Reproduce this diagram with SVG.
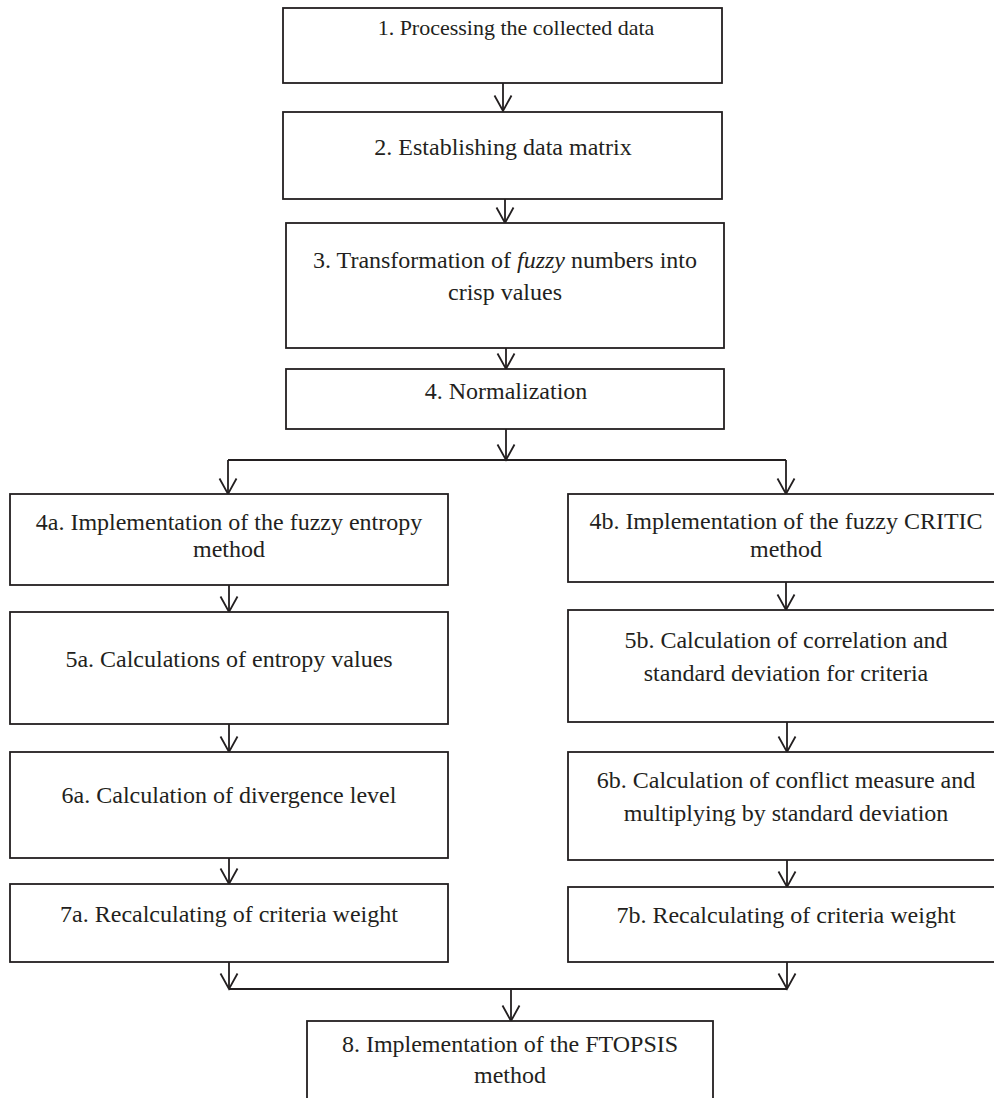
<svg xmlns="http://www.w3.org/2000/svg" width="994" height="1098" viewBox="0 0 994 1098">
<defs>
<style>
.box{fill:#fff;stroke:#231f20;stroke-width:1.8}
.lbl{font-family:"Liberation Serif","Times New Roman",serif;font-size:24px;fill:#231f20;text-anchor:middle}
.con{fill:none;stroke:#231f20;stroke-width:1.8}
</style>
<marker id="arr" markerUnits="userSpaceOnUse" viewBox="0 0 18 20" refX="16.5" refY="10" markerWidth="18" markerHeight="20" orient="auto">
<path d="M1,1.5 L16.5,10 L1,18.5" fill="none" stroke="#231f20" stroke-width="1.8"/>
</marker>
</defs>
<rect width="994" height="1098" fill="#fff"/>
<g id="connectors">
<line class="con" x1="503" y1="83" x2="503" y2="111" marker-end="url(#arr)"/>
<line class="con" x1="505" y1="199" x2="505" y2="223" marker-end="url(#arr)"/>
<line class="con" x1="506" y1="348" x2="506" y2="369" marker-end="url(#arr)"/>
<line class="con" x1="506" y1="429" x2="506" y2="460" marker-end="url(#arr)"/>
<polyline class="con" points="228,460 786,460"/>
<line class="con" x1="228" y1="460" x2="228" y2="494" marker-end="url(#arr)"/>
<line class="con" x1="786" y1="460" x2="786" y2="494" marker-end="url(#arr)"/>
<line class="con" x1="229" y1="585" x2="229" y2="612" marker-end="url(#arr)"/>
<line class="con" x1="229" y1="724" x2="229" y2="752" marker-end="url(#arr)"/>
<line class="con" x1="229" y1="858" x2="229" y2="884" marker-end="url(#arr)"/>
<line class="con" x1="786" y1="582" x2="786" y2="610" marker-end="url(#arr)"/>
<line class="con" x1="787" y1="722" x2="787" y2="752" marker-end="url(#arr)"/>
<line class="con" x1="787" y1="860" x2="787" y2="887" marker-end="url(#arr)"/>
<line class="con" x1="229" y1="962" x2="229" y2="989" marker-end="url(#arr)"/>
<line class="con" x1="787" y1="962" x2="787" y2="989" marker-end="url(#arr)"/>
<polyline class="con" points="229,989 787,989"/>
<line class="con" x1="511" y1="989" x2="511" y2="1021" marker-end="url(#arr)"/>
</g>
<g id="n1"><rect class="box" x="283" y="8" width="439" height="75"/><text class="lbl" x="516" y="35" style="font-size:22px">1. Processing the collected data</text></g>
<g id="n2"><rect class="box" x="283" y="112" width="439" height="87"/><text class="lbl" x="503" y="155">2. Establishing data matrix</text></g>
<g id="n3"><rect class="box" x="286" y="223" width="438" height="125"/><text class="lbl" x="505" y="268">3. Transformation of <tspan font-style="italic">fuzzy</tspan> numbers into</text><text class="lbl" x="505" y="300">crisp values</text></g>
<g id="n4"><rect class="box" x="286" y="369" width="438" height="60"/><text class="lbl" x="506" y="399">4. Normalization</text></g>
<g id="n4a"><rect class="box" x="10" y="494" width="438" height="91"/><text class="lbl" x="229" y="530">4a. Implementation of the fuzzy entropy</text><text class="lbl" x="229" y="557">method</text></g>
<g id="n5a"><rect class="box" x="10" y="612" width="438" height="112"/><text class="lbl" x="229" y="667">5a. Calculations of entropy values</text></g>
<g id="n6a"><rect class="box" x="10" y="752" width="438" height="106"/><text class="lbl" x="229" y="803">6a. Calculation of divergence level</text></g>
<g id="n7a"><rect class="box" x="10" y="884" width="438" height="78"/><text class="lbl" x="229" y="922">7a. Recalculating of criteria weight</text></g>
<g id="n4b"><rect class="box" x="568" y="494" width="440" height="88"/><text class="lbl" x="786" y="529">4b. Implementation of the fuzzy CRITIC</text><text class="lbl" x="786" y="557">method</text></g>
<g id="n5b"><rect class="box" x="568" y="610" width="440" height="112"/><text class="lbl" x="786" y="648">5b. Calculation of correlation and</text><text class="lbl" x="786" y="681">standard deviation for criteria</text></g>
<g id="n6b"><rect class="box" x="568" y="752" width="440" height="108"/><text class="lbl" x="786" y="788">6b. Calculation of conflict measure and</text><text class="lbl" x="786" y="821">multiplying by standard deviation</text></g>
<g id="n7b"><rect class="box" x="568" y="887" width="440" height="75"/><text class="lbl" x="786" y="923">7b. Recalculating of criteria weight</text></g>
<g id="n8"><rect class="box" x="307" y="1021" width="406" height="100"/><text class="lbl" x="510" y="1052">8. Implementation of the FTOPSIS</text><text class="lbl" x="510" y="1083">method</text></g>
</svg>
